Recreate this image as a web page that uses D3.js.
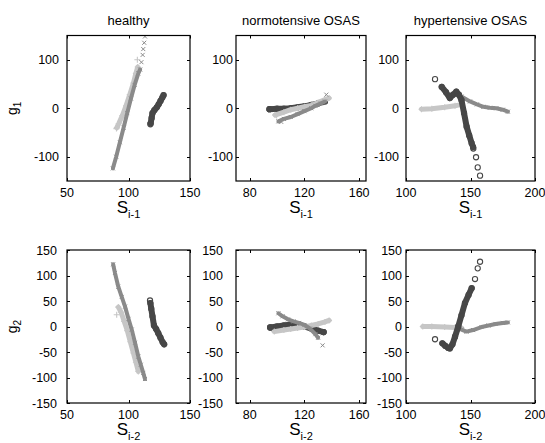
<!DOCTYPE html>
<html>
<head>
<meta charset="utf-8">
<script src="https://cdn.jsdelivr.net/npm/d3@7"></script>
<style>
  html, body { margin: 0; padding: 0; background: #fff; }
  svg { display: block; font-family: "Liberation Sans", Arial, sans-serif; }
</style>
</head>
<body>
<svg id="fig" width="545" height="443"></svg>
<script>
// panel titles and axis setup
const titles = ["healthy", "normotensive OSAS", "hypertensive OSAS"];
const xDomains = [[50, 150], [70, 165], [100, 200]];
const xTicks = [[50, 100, 150], [80, 120, 160], [100, 150, 200]];
const yTicksTop = [-100, 0, 100];
const yTicksBottom = [-150, -100, -50, 0, 50, 100, 150];
const yLabels = ["g", "g"];
const ySubs = ["1", "2"];
const xSubs = ["i-1", "i-2"];

// healthy, g1 vs S(i-1)
const heaLight1 = [[90.5, -40], [92, -32], [95, -15], [98, 5], [101, 28], [104, 52], [106, 72], [107.5, 85]];
const heaLightPts1 = [[90.2, -42], [107.2, 100]];
const heaMid1 = [[87.3, -124], [90, -100], [93, -70], [96, -40], [99, -10], [102, 20], [105, 48], [108, 72], [109.5, 80]];
const heaMidPts1 = [[110.5, 95], [111.5, 110], [112, 122], [112.8, 135], [113.4, 148]];
const heaDark1 = [[118, -31], [118.8, -20], [119.5, -10], [121, -4], [123, 2], [124.5, 8], [126, 15], [127.5, 22], [128.5, 27]];
const heaDarkPts1 = [[117.8, -33]];

// healthy, g2 vs S(i-2)
const heaLight2 = [[91.7, 38], [94, 28], [96.5, 10], [99, -8], [101.5, -30], [104, -52], [106, -70], [108, -88]];
const heaLightPts2 = [[90.4, 23]];
const heaMid2 = [[87.5, 122], [89, 105], [91.7, 78], [94.5, 58], [97.2, 39], [100, 15], [102.6, -6], [105.3, -32], [108, -59], [110, -75], [112, -91], [113.4, -103]];
const heaMidPts2 = [];
const heaDark2 = [[117.8, 46], [118.5, 35], [119.5, 20], [120.7, 2], [122.5, -5], [124.2, -13], [126, -22], [127.8, -31], [129, -35]];
const heaDarkPts2 = [[117.5, 51]];

// normotensive OSAS, g1
const norLight1 = [[98.5, -14], [105, -8], [110, -3], [115, 0], [120, 3], [125, 6], [130, 12], [135, 18], [138, 21]];
const norLightPts1 = [[99.7, -15]];
const norMid1 = [[101, -27], [105, -22], [110, -18], [115, -12], [120, -6], [125, 0], [128, 5], [132, 10], [135, 14]];
const norMidPts1 = [[136, 28], [103, -28]];
const norDark1 = [[94.5, -2], [100, -1], [105, -1], [110, 0], [115, 2], [120, 4], [125, 7], [130, 10], [135, 14]];
const norDarkPts1 = [[94.5, -2]];

// normotensive OSAS, g2
const norLight2 = [[98, -10], [105, -7], [110, -5], [115, -3], [120, -1], [125, 2], [130, 5], [135, 9], [138, 12]];
const norLightPts2 = [];
const norMid2 = [[101, 26], [104, 20], [108, 14], [112, 10], [116, 7], [120, 3], [124, -4], [128, -15], [130, -22]];
const norMidPts2 = [[133.3, -37]];
const norDark2 = [[95, -2], [100, 0], [105, 2], [110, 4], [115, 4], [120, 0], [125, -4], [130, -8], [134, -11]];
const norDarkPts2 = [[95, -2], [134, -11]];

// hypertensive OSAS, g1
const hypLight1 = [[112, -2], [120, -1], [130, 2], [138, 5], [143, 8]];
const hypLightPts1 = [];
const hypMid1 = [[143, 24], [149.6, 14], [155, 8], [160, 3], [165, 1], [170, 0], [175, -3], [179, -7]];
const hypMidPts1 = [];
const hypDark1 = [[127.7, 44], [131, 33], [134, 21], [136.5, 28], [139, 34], [141, 28], [143, 17], [145, -10], [147, -38], [149, -56], [150.9, -72], [152, -80]];
const hypDarkPts1 = [[122.5, 60], [152.2, -83], [154.3, -101], [155.6, -122], [157.4, -139]];

// hypertensive OSAS, g2
const hypLight2 = [[113, 0], [120, 0], [130, -1], [138, -2], [143, -3]];
const hypLightPts2 = [];
const hypMid2 = [[143, -6], [146.9, -10], [152, -7], [158.5, -1], [164, 2], [169.4, 5], [175, 7], [179, 8]];
const hypMidPts2 = [];
const hypDark2 = [[128.2, -33], [130.5, -38], [132.8, -42], [134, -43], [136, -35], [138, -20], [140.5, 0], [143, 22], [145.7, 46], [148.5, 62], [150.9, 75]];
const hypDarkPts2 = [[122.5, -25], [153.5, 93], [155.6, 114], [157.4, 127]];

// per panel: [light, mid, dark]
const series = [
  [[heaLight1, heaLightPts1], [heaMid1, heaMidPts1], [heaDark1, heaDarkPts1]],
  [[norLight1, norLightPts1], [norMid1, norMidPts1], [norDark1, norDarkPts1]],
  [[hypLight1, hypLightPts1], [hypMid1, hypMidPts1], [hypDark1, hypDarkPts1]],
  [[heaLight2, heaLightPts2], [heaMid2, heaMidPts2], [heaDark2, heaDarkPts2]],
  [[norLight2, norLightPts2], [norMid2, norMidPts2], [norDark2, norDarkPts2]],
  [[hypLight2, hypLightPts2], [hypMid2, hypMidPts2], [hypDark2, hypDarkPts2]]
];

const LIGHT = "#c6c6c6", MID = "#8a8a8a", DARK = "#474747";
const styles = [
  { color: LIGHT, width: 5, marker: "plus" },
  { color: MID, width: 4, marker: "cross" },
  { color: DARK, width: 6, marker: "circle" }
];
// stacking order per column (index into styles)
const drawOrder = [[2, 0, 1], [2, 0, 1], [0, 1, 2]];

const cols = [{ l: 67, r: 190 }, { l: 236, r: 366 }, { l: 406, r: 535 }];
const rows = [{ t: 35.5, b: 181 }, { t: 250, b: 403 }];
const yGaps = [[8, 3, 7], [10, 13, 4]];

const svg = d3.select("#fig");

const drawMarker = (g, kind, color, x, y) => {
  if (kind === "circle") {
    g.append("circle").attr("cx", x).attr("cy", y).attr("r", 2.6)
      .attr("fill", "none").attr("stroke", color).attr("stroke-width", 1.1);
  } else if (kind === "plus") {
    g.append("path").attr("d", `M${x - 3},${y}H${x + 3}M${x},${y - 3}V${y + 3}`)
      .attr("stroke", color).attr("stroke-width", 1.1);
  } else {
    g.append("path").attr("d", `M${x - 2},${y - 2}L${x + 2},${y + 2}M${x - 2},${y + 2}L${x + 2},${y - 2}`)
      .attr("stroke", color).attr("stroke-width", 1);
  }
};

rows.forEach((row, ri) => {
  cols.forEach((col, ci) => {
    const x = d3.scaleLinear().domain(xDomains[ci]).range([col.l, col.r]);
    const y = d3.scaleLinear().domain([-150, 150]).range([row.b, row.t]);
    const yt = ri === 0 ? yTicksTop : yTicksBottom;
    const id = `clip-${ri}-${ci}`;

    svg.append("clipPath").attr("id", id).append("rect")
      .attr("x", col.l).attr("y", row.t)
      .attr("width", col.r - col.l).attr("height", row.b - row.t);

    const g = svg.append("g").attr("clip-path", `url(#${id})`);
    const line = d3.line().x(d => x(d[0])).y(d => y(d[1]));
    const panel = series[ri * 3 + ci];

    drawOrder[ci].forEach(si => {
      const [trail, pts] = panel[si];
      const st = styles[si];
      g.append("path").attr("d", line(trail))
        .attr("fill", "none").attr("stroke", st.color)
        .attr("stroke-width", st.width)
        .attr("stroke-linecap", "round").attr("stroke-linejoin", "round");
      trail.concat(pts).forEach(d => drawMarker(g, st.marker, st.color, x(d[0]), y(d[1])));
    });

    // ticks inside, on all sides (box on)
    const ax = svg.append("g").attr("stroke", "#000").attr("stroke-width", 1);
    xTicks[ci].forEach(v => {
      const px = Math.round(x(v)) + 0.5;
      ax.append("line").attr("x1", px).attr("x2", px).attr("y1", row.b).attr("y2", row.b - 3);
      ax.append("line").attr("x1", px).attr("x2", px).attr("y1", row.t).attr("y2", row.t + 3);
    });
    yt.forEach(v => {
      const py = Math.round(y(v)) + 0.5;
      ax.append("line").attr("x1", col.l).attr("x2", col.l + 3).attr("y1", py).attr("y2", py);
      ax.append("line").attr("x1", col.r).attr("x2", col.r - 3).attr("y1", py).attr("y2", py);
    });
    svg.append("rect").attr("x", col.l).attr("y", row.t)
      .attr("width", col.r - col.l).attr("height", row.b - row.t)
      .attr("fill", "none").attr("stroke", "#000").attr("stroke-width", 1.2);

    // tick labels
    svg.append("g").selectAll("text").data(xTicks[ci]).join("text")
      .attr("x", d => x(d)).attr("y", row.b + 16)
      .attr("text-anchor", "middle").attr("font-size", 12.5).text(d => d);
    svg.append("g").selectAll("text").data(yt).join("text")
      .attr("x", col.l - yGaps[ri][ci]).attr("y", d => y(d) + 4.5)
      .attr("text-anchor", "end").attr("font-size", 12.5).text(d => d);

    // x label S with subscript
    const xl = svg.append("text").attr("x", (col.l + col.r) / 2).attr("y", row.b + 32)
      .attr("text-anchor", "middle").attr("font-size", 17);
    xl.append("tspan").text("S");
    xl.append("tspan").attr("font-size", 11).attr("dy", 5).text(xSubs[ri]);

    if (ri === 0) {
      svg.append("text").attr("x", (col.l + col.r) / 2).attr("y", 25)
        .attr("text-anchor", "middle").attr("font-size", 13).text(titles[ci]);
    }
    if (ci === 0) {
      const cy = (row.t + row.b) / 2;
      const yl = svg.append("text").attr("transform", `translate(17,${cy}) rotate(-90)`)
        .attr("text-anchor", "middle").attr("font-size", 14);
      yl.append("tspan").text(yLabels[ri]);
      yl.append("tspan").attr("font-size", 10).attr("dy", 4).text(ySubs[ri]);
    }
  });
});
</script>
</body>
</html>
